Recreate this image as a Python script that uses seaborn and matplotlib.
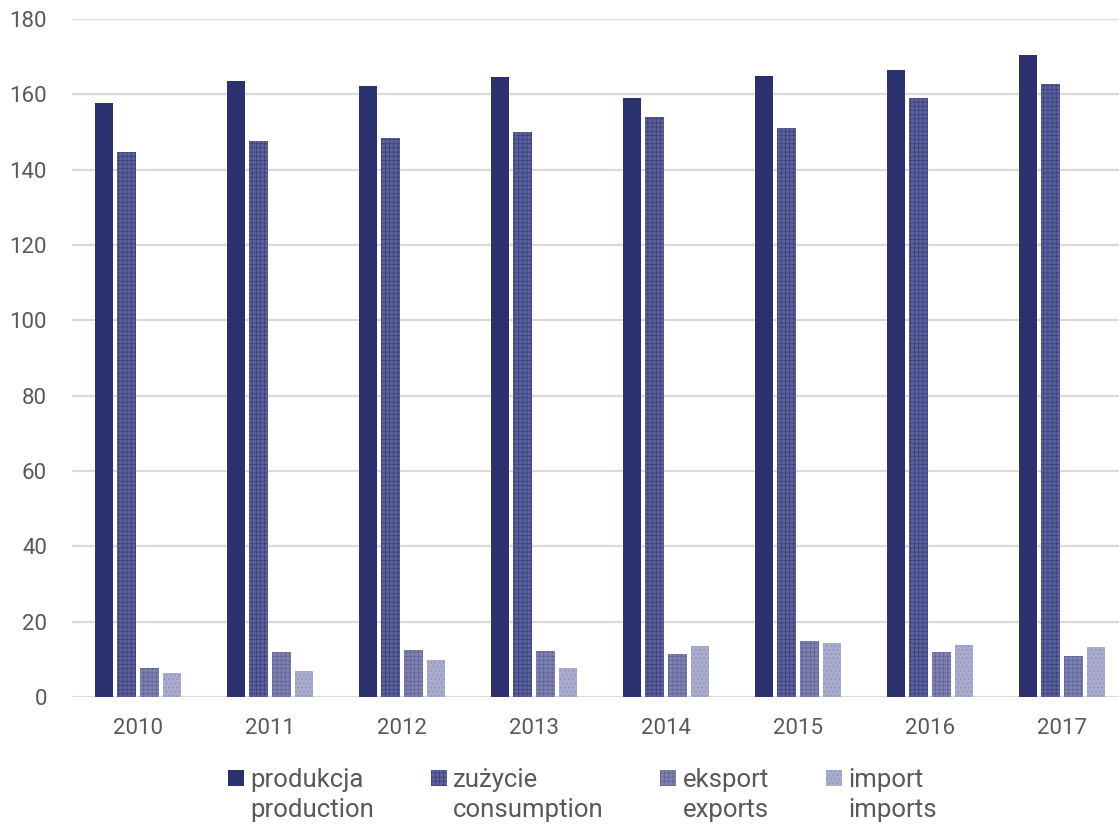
import numpy as np
import pandas as pd
import matplotlib
matplotlib.use("Agg")
import matplotlib.pyplot as plt
import seaborn as sns
from matplotlib.patches import Rectangle
from matplotlib.legend_handler import HandlerPatch

# values
years = ["2010", "2011", "2012", "2013", "2014", "2015", "2016", "2017"]
production = [157.7, 163.5, 162.2, 164.6, 159.0, 164.9, 166.4, 170.4]
consumption = [144.7, 147.6, 148.4, 150.0, 154.0, 151.0, 159.0, 162.7]
exports = [7.7, 12.0, 12.5, 12.2, 11.4, 14.9, 12.0, 10.9]
imports = [6.4, 6.9, 9.8, 7.7, 13.5, 14.3, 13.8, 13.3]
series_labels = ["produkcja\nproduction", "zużycie\nconsumption",
                 "eksport\nexports", "import\nimports"]

face_colors = ["#2B306F", "#5C619A", "#7E82B0", "#A9ABCD"]
hatch_colors = ["#2B306F", "#3A3F7E", "#5E6296", "#8B8EB8"]
hatches = ["", "++++", "++++", "...."]

df = pd.DataFrame({
    "year": years * 4,
    "value": production + consumption + exports + imports,
    "series": np.repeat(series_labels, len(years)),
})

sns.set_theme(style="white")
plt.rcParams["font.family"] = ["Roboto", "DejaVu Sans"]
plt.rcParams["hatch.linewidth"] = 0.5
TXT = "#595959"

fig = plt.figure(figsize=(11.19, 8.26), dpi=100)
ax = fig.add_axes([72 / 1119, 129 / 826, 1056 / 1119, 678 / 826])

sns.barplot(data=df, x="year", y="value", hue="series", hue_order=series_labels,
            palette=face_colors, width=0.69, gap=0.18, ax=ax, legend=False,
            saturation=1, zorder=3)

for cont, hc, h in zip(ax.containers, hatch_colors, hatches):
    for bar in cont:
        bar.set_hatch(h)
        bar.set_edgecolor(hc)
        bar.set_linewidth(0)

ax.set_ylim(0, 180)
ax.set_yticks(range(0, 181, 20))
ax.set_xlim(-0.5, len(years) - 0.5)
ax.yaxis.grid(True, color="#D9D9D9", linewidth=1.6, zorder=0)
ax.set_axisbelow(True)
for s in ax.spines.values():
    s.set_visible(False)
ax.set_xlabel("")
ax.set_ylabel("")
ax.tick_params(axis="y", labelsize=16, labelcolor=TXT, length=0, pad=18)
ax.tick_params(axis="x", labelsize=16, labelcolor=TXT, length=0, pad=15)


def square_top(legend, orig_handle, xdescent, ydescent, width, height, fontsize):
    s = 0.62 * fontsize
    return Rectangle((-xdescent, height * 0.5 + 0.38 * fontsize), s, s)


handles = [Rectangle((0, 0), 1, 1, facecolor=fc, edgecolor=hc, hatch=h, linewidth=0)
           for fc, hc, h in zip(face_colors, hatch_colors, hatches)]
leg = fig.legend(handles, series_labels, loc="upper left", ncol=4,
                 bbox_to_anchor=(228 / 1119, 1 - 768 / 826), frameon=False,
                 fontsize=18.5, labelcolor=TXT, handlelength=0.62, handletextpad=0.25,
                 columnspacing=2.2, borderpad=0, borderaxespad=0,
                 handler_map={Rectangle: HandlerPatch(patch_func=square_top)})
for t in leg.get_texts():
    t.set_linespacing(1.3)

fig.savefig("out.png", dpi=100)
